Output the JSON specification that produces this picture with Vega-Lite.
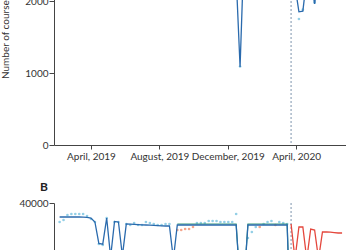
{
  "$schema": "https://vega.github.io/schema/vega-lite/v6.json",
  "padding": {"left": 0, "top": -76, "right": 0, "bottom": 0},
  "bounds": "flush",
  "spacing": 58,
  "config": {
    "view": {"stroke": null},
    "font": "Lato",
    "axis": {"grid": false, "domainColor": "#444", "tickColor": "#444", "labelColor": "#333", "titleColor": "#333", "labelFontSize": 10, "titleFontSize": 10, "titleFontWeight": "normal", "labelFont": "Lato", "titleFont": "Lato"}
  },
  "datasets": {
    "a": [
      {"week": "2019-02-04", "fit": 2450, "obs": 2420},
      {"week": "2019-02-11", "fit": 2480, "obs": 2510},
      {"week": "2019-02-18", "fit": 2500, "obs": 2540},
      {"week": "2019-02-25", "fit": 2520, "obs": 2560},
      {"week": "2019-03-04", "fit": 2530, "obs": 2550},
      {"week": "2019-03-11", "fit": 2540, "obs": 2570},
      {"week": "2019-03-18", "fit": 2550, "obs": 2530},
      {"week": "2019-03-25", "fit": 2540, "obs": 2560},
      {"week": "2019-04-01", "fit": 2500, "obs": 2480},
      {"week": "2019-04-08", "fit": 2380, "obs": 2400},
      {"week": "2019-04-15", "fit": 2250, "obs": 2230},
      {"week": "2019-04-22", "fit": 2300, "obs": 2280},
      {"week": "2019-04-29", "fit": 2450, "obs": 2470},
      {"week": "2019-05-06", "fit": 2350, "obs": 2330},
      {"week": "2019-05-13", "fit": 2500, "obs": 2520},
      {"week": "2019-05-20", "fit": 2520, "obs": 2500},
      {"week": "2019-05-27", "fit": 2300, "obs": 2290},
      {"week": "2019-06-03", "fit": 2480, "obs": 2460},
      {"week": "2019-06-10", "fit": 2500, "obs": 2530},
      {"week": "2019-06-17", "fit": 2510, "obs": 2490},
      {"week": "2019-06-24", "fit": 2510, "obs": 2540},
      {"week": "2019-07-01", "fit": 2500, "obs": 2480},
      {"week": "2019-07-08", "fit": 2500, "obs": 2520},
      {"week": "2019-07-15", "fit": 2490, "obs": 2470},
      {"week": "2019-07-22", "fit": 2480, "obs": 2500},
      {"week": "2019-07-29", "fit": 2470, "obs": 2450},
      {"week": "2019-08-05", "fit": 2460, "obs": 2480},
      {"week": "2019-08-12", "fit": 2450, "obs": 2430},
      {"week": "2019-08-19", "fit": 2450, "obs": 2470},
      {"week": "2019-08-26", "fit": 2250, "obs": 2230},
      {"week": "2019-09-02", "fit": 2550, "obs": 2520},
      {"week": "2019-09-09", "fit": 2560, "obs": 2580},
      {"week": "2019-09-16", "fit": 2570, "obs": 2550},
      {"week": "2019-09-23", "fit": 2570, "obs": 2600},
      {"week": "2019-09-30", "fit": 2580, "obs": 2560},
      {"week": "2019-10-07", "fit": 2580, "obs": 2600},
      {"week": "2019-10-14", "fit": 2580, "obs": 2570},
      {"week": "2019-10-21", "fit": 2570, "obs": 2590},
      {"week": "2019-10-28", "fit": 2560, "obs": 2540},
      {"week": "2019-11-04", "fit": 2570, "obs": 2590},
      {"week": "2019-11-11", "fit": 2570, "obs": 2560},
      {"week": "2019-11-18", "fit": 2570, "obs": 2580},
      {"week": "2019-11-25", "fit": 2560, "obs": 2540},
      {"week": "2019-12-02", "fit": 2560, "obs": 2570},
      {"week": "2019-12-09", "fit": 2550, "obs": 2560},
      {"week": "2019-12-16", "fit": 2340, "obs": 2360},
      {"week": "2019-12-23", "fit": 1083, "obs": 1090},
      {"week": "2019-12-30", "fit": 2700, "obs": 2690},
      {"week": "2020-01-06", "fit": 2600, "obs": 2580},
      {"week": "2020-01-13", "fit": 2610, "obs": 2630},
      {"week": "2020-01-20", "fit": 2610, "obs": 2600},
      {"week": "2020-01-27", "fit": 2600, "obs": 2620},
      {"week": "2020-02-03", "fit": 2600, "obs": 2590},
      {"week": "2020-02-10", "fit": 2590, "obs": 2610},
      {"week": "2020-02-17", "fit": 2590, "obs": 2570},
      {"week": "2020-02-24", "fit": 2580, "obs": 2600},
      {"week": "2020-03-02", "fit": 2580, "obs": 2570},
      {"week": "2020-03-09", "fit": 2570, "obs": 2590},
      {"week": "2020-03-16", "fit": 2550, "obs": 2530},
      {"week": "2020-03-23", "fit": 2400, "obs": 2380},
      {"week": "2020-03-30", "fit": 2210, "obs": 2190},
      {"week": "2020-04-06", "fit": 1850, "obs": 1750},
      {"week": "2020-04-13", "fit": 1860, "obs": 1880},
      {"week": "2020-04-20", "fit": 2320, "obs": 2300},
      {"week": "2020-04-27", "fit": 2300, "obs": 2320},
      {"week": "2020-05-04", "fit": 1960, "obs": 1980},
      {"week": "2020-05-11", "fit": 2350, "obs": 2330},
      {"week": "2020-05-18", "fit": 2400, "obs": 2420},
      {"week": "2020-05-25", "fit": 2380, "obs": 2360},
      {"week": "2020-06-01", "fit": 2420, "obs": 2440},
      {"week": "2020-06-08", "fit": 2430, "obs": 2410},
      {"week": "2020-06-15", "fit": 2440, "obs": 2460},
      {"week": "2020-06-22", "fit": 2450, "obs": 2430}
    ],
    "b": [
      {"week": "2019-02-04", "fit": 36500, "obs": 35250, "grp": "a"},
      {"week": "2019-02-11", "fit": 36500, "obs": 35750, "grp": "a"},
      {"week": "2019-02-18", "fit": 36500, "obs": 37000, "grp": "a"},
      {"week": "2019-02-25", "fit": 36500, "obs": 37250, "grp": "a"},
      {"week": "2019-03-04", "fit": 36500, "obs": 37250, "grp": "a"},
      {"week": "2019-03-11", "fit": 36500, "obs": 37250, "grp": "a"},
      {"week": "2019-03-18", "fit": 36450, "obs": 37250, "grp": "a"},
      {"week": "2019-03-25", "fit": 36400, "obs": 36750, "grp": "a"},
      {"week": "2019-04-01", "fit": 36250, "obs": 36000, "grp": "a"},
      {"week": "2019-04-08", "fit": 35250, "obs": 35250, "grp": "a"},
      {"week": "2019-04-15", "fit": 29900, "obs": 29750, "grp": "a"},
      {"week": "2019-04-22", "fit": 29700, "obs": 29500, "grp": "a"},
      {"week": "2019-04-29", "fit": 36250, "obs": 36250, "grp": "a"},
      {"week": "2019-05-06", "fit": 26500, "obs": 26800, "grp": "a"},
      {"week": "2019-05-13", "fit": 35400, "obs": 35250, "grp": "a"},
      {"week": "2019-05-20", "fit": 35250, "obs": 35250, "grp": "a"},
      {"week": "2019-05-27", "fit": 26800, "obs": 27000, "grp": "a"},
      {"week": "2019-06-03", "fit": 34750, "obs": 34750, "grp": "a"},
      {"week": "2019-06-10", "fit": 34700, "obs": 34500, "grp": "a"},
      {"week": "2019-06-17", "fit": 34650, "obs": 35000, "grp": "a"},
      {"week": "2019-06-24", "fit": 34600, "obs": 34500, "grp": "a"},
      {"week": "2019-07-01", "fit": 34550, "obs": 34500, "grp": "a"},
      {"week": "2019-07-08", "fit": 34500, "obs": 35250, "grp": "a"},
      {"week": "2019-07-15", "fit": 34450, "obs": 35000, "grp": "a"},
      {"week": "2019-07-22", "fit": 34400, "obs": 34750, "grp": "a"},
      {"week": "2019-07-29", "fit": 34350, "obs": 34500, "grp": "a"},
      {"week": "2019-08-05", "fit": 34300, "obs": 34500, "grp": "a"},
      {"week": "2019-08-12", "fit": 34250, "obs": 34750, "grp": "a"},
      {"week": "2019-08-19", "fit": 34250, "obs": 34750, "grp": "a"},
      {"week": "2019-08-26", "fit": 26000, "obs": 26500, "grp": "a"},
      {"week": "2019-09-02", "fit": 34500, "green": 34750, "obs": 33250, "grp": "b"},
      {"week": "2019-09-09", "fit": 34500, "green": 34750, "obs": 33250, "grp": "b"},
      {"week": "2019-09-16", "fit": 34500, "green": 34750, "obs": 33500, "grp": "b"},
      {"week": "2019-09-23", "fit": 34500, "green": 34750, "obs": 33500, "grp": "b"},
      {"week": "2019-09-30", "fit": 34500, "green": 34750, "obs": 34000, "grp": "b"},
      {"week": "2019-10-07", "fit": 34500, "green": 34750, "obs": 35000, "grp": "a"},
      {"week": "2019-10-14", "fit": 34500, "green": 34750, "obs": 35000, "grp": "a"},
      {"week": "2019-10-21", "fit": 34500, "green": 34750, "obs": 35000, "grp": "a"},
      {"week": "2019-10-28", "fit": 34500, "green": 34750, "obs": 35500, "grp": "a"},
      {"week": "2019-11-04", "fit": 34500, "green": 34750, "obs": 35500, "grp": "a"},
      {"week": "2019-11-11", "fit": 34500, "green": 34750, "obs": 35500, "grp": "a"},
      {"week": "2019-11-18", "fit": 34500, "green": 34750, "obs": 35250, "grp": "a"},
      {"week": "2019-11-25", "fit": 34500, "green": 34750, "obs": 35250, "grp": "a"},
      {"week": "2019-12-02", "fit": 34500, "green": 34750, "obs": 35250, "grp": "a"},
      {"week": "2019-12-09", "fit": 34500, "green": 34750, "obs": 35250, "grp": "a"},
      {"week": "2019-12-16", "fit": 34500, "green": 34750, "obs": 37250, "grp": "a"},
      {"week": "2019-12-23", "fit": 20000, "green": 20000, "obs": 20500, "grp": "a"},
      {"week": "2019-12-30", "fit": 20000, "green": 20000, "obs": 19500, "grp": "a"},
      {"week": "2020-01-06", "fit": 34500, "green": 34750, "obs": 31250, "grp": "a"},
      {"week": "2020-01-13", "fit": 34500, "green": 34750, "obs": 32750, "grp": "a"},
      {"week": "2020-01-20", "fit": 34500, "green": 34750, "obs": 34000, "grp": "a"},
      {"week": "2020-01-27", "fit": 34500, "green": 34750, "obs": 34000, "grp": "b"},
      {"week": "2020-02-03", "fit": 34500, "green": 34750, "obs": 34750, "grp": "a"},
      {"week": "2020-02-10", "fit": 34500, "green": 34750, "obs": 35250, "grp": "a"},
      {"week": "2020-02-17", "fit": 34500, "green": 34750, "obs": 35500, "grp": "a"},
      {"week": "2020-02-24", "fit": 34500, "green": 34750, "obs": 34500, "grp": "b"},
      {"week": "2020-03-02", "fit": 34500, "green": 34750, "obs": 35250, "grp": "a"},
      {"week": "2020-03-09", "fit": 34500, "green": 34750, "obs": 35000, "grp": "a"},
      {"week": "2020-03-16", "fit": 34500, "green": 34750, "obs": 34750, "grp": "a"},
      {"week": "2020-03-23", "fit": 5000, "green": 5000, "obs": 5200, "grp": "a", "fc": 34750},
      {"week": "2020-03-30", "fit": 4000, "obs": 4100, "grp": "a", "fc": 26000},
      {"week": "2020-04-06", "fit": 3500, "obs": 3600, "grp": "a", "fc": 34000},
      {"week": "2020-04-13", "fit": 3500, "obs": 3400, "grp": "a", "fc": 34000},
      {"week": "2020-04-20", "fit": 3400, "obs": 3300, "grp": "a", "fc": 26000},
      {"week": "2020-04-27", "fit": 3400, "obs": 3500, "grp": "a", "fc": 33500},
      {"week": "2020-05-04", "fit": 3300, "obs": 3200, "grp": "a", "fc": 33250},
      {"week": "2020-05-11", "fit": 3300, "obs": 3400, "grp": "a", "fc": 26000},
      {"week": "2020-05-18", "fit": 3200, "obs": 3100, "grp": "a", "fc": 32750},
      {"week": "2020-05-25", "fit": 3200, "obs": 3300, "grp": "a", "fc": 32750},
      {"week": "2020-06-01", "fit": 3200, "obs": 3100, "grp": "a", "fc": 32700},
      {"week": "2020-06-08", "fit": 3100, "obs": 3200, "grp": "a", "fc": 32600},
      {"week": "2020-06-15", "fit": 3100, "obs": 3000, "grp": "a", "fc": 32500},
      {"week": "2020-06-22", "fit": 3100, "obs": 3200, "grp": "a", "fc": 32500}
    ],
    "lockdown": [{"week": "2020-03-23"}]
  },
  "vconcat": [
    {
      "width": 292,
      "height": 216,
      "encoding": {
        "x": {
          "field": "week", "type": "temporal", "title": null,
          "scale": {"type": "utc", "domain": [{"year": 2019, "month": 1, "date": 25, "utc": true}, {"year": 2020, "month": 6, "date": 29, "utc": true}]},
          "axis": {"values": [{"year": 2019, "month": 4, "date": 1, "utc": true}, {"year": 2019, "month": 8, "date": 1, "utc": true}, {"year": 2019, "month": 12, "date": 1, "utc": true}, {"year": 2020, "month": 4, "date": 1, "utc": true}], "format": "%B, %Y", "tickSize": 4, "labelPadding": 2, "labelFlush": false}
        }
      },
      "layer": [
        {
          "data": {"name": "lockdown"},
          "mark": {"type": "rule", "strokeDash": [2, 2], "color": "#7d93ad", "strokeWidth": 1},
          "encoding": {}
        },
        {
          "data": {"name": "a"},
          "mark": {"type": "point", "filled": true, "size": 7, "color": "#93cfe6", "opacity": 1},
          "encoding": {
            "y": {"field": "obs", "type": "quantitative", "title": "Number of courses", "scale": {"domain": [0, 3000]}}
          }
        },
        {
          "data": {"name": "a"},
          "mark": {"type": "line", "color": "#2a6aad", "strokeWidth": 1.3},
          "encoding": {
            "y": {"field": "fit", "type": "quantitative", "title": "Number of courses", "scale": {"domain": [0, 3000]},
              "axis": {"values": [0, 1000, 2000, 3000], "format": "d", "tickSize": 5, "labelPadding": 1, "titlePadding": 14}}
          }
        }
      ]
    },
    {
      "width": 292,
      "height": 160,
      "title": {"text": "B", "anchor": "start", "frame": "group", "dx": -14, "fontSize": 12, "fontWeight": "bold", "baseline": "alphabetic", "offset": -5, "color": "#222", "font": "Lato"},
      "encoding": {
        "x": {
          "field": "week", "type": "temporal", "title": null,
          "scale": {"type": "utc", "domain": [{"year": 2019, "month": 1, "date": 25, "utc": true}, {"year": 2020, "month": 6, "date": 29, "utc": true}]},
          "axis": {"values": [{"year": 2019, "month": 4, "date": 1, "utc": true}, {"year": 2019, "month": 8, "date": 1, "utc": true}, {"year": 2019, "month": 12, "date": 1, "utc": true}, {"year": 2020, "month": 4, "date": 1, "utc": true}], "format": "%B, %Y", "tickSize": 4, "labelPadding": 2, "labelFlush": false}
        }
      },
      "layer": [
        {
          "data": {"name": "lockdown"},
          "mark": {"type": "rule", "strokeDash": [2, 2], "color": "#7d93ad", "strokeWidth": 1},
          "encoding": {}
        },
        {
          "data": {"name": "b"},
          "mark": {"type": "point", "filled": true, "size": 7, "opacity": 1},
          "encoding": {
            "y": {"field": "obs", "type": "quantitative", "title": null, "scale": {"domain": [0, 40000]}},
            "color": {"field": "grp", "type": "nominal", "scale": {"domain": ["a", "b"], "range": ["#93cfe6", "#f4a58c"]}, "legend": null}
          }
        },
        {
          "data": {"name": "b"},
          "mark": {"type": "line", "color": "#3a9a78", "strokeWidth": 1.2},
          "encoding": {
            "y": {"field": "green", "type": "quantitative", "title": null, "scale": {"domain": [0, 40000]}}
          }
        },
        {
          "data": {"name": "b"},
          "mark": {"type": "line", "color": "#2a6aad", "strokeWidth": 1.3},
          "encoding": {
            "y": {"field": "fit", "type": "quantitative", "title": null, "scale": {"domain": [0, 40000]},
              "axis": {"values": [0, 10000, 20000, 30000, 40000], "format": "d", "tickSize": 5, "labelPadding": 1}}
          }
        },
        {
          "data": {"name": "b"},
          "mark": {"type": "line", "color": "#e4473d", "strokeWidth": 1.3},
          "encoding": {
            "y": {"field": "fc", "type": "quantitative", "title": null, "scale": {"domain": [0, 40000]}}
          }
        }
      ]
    }
  ]
}
